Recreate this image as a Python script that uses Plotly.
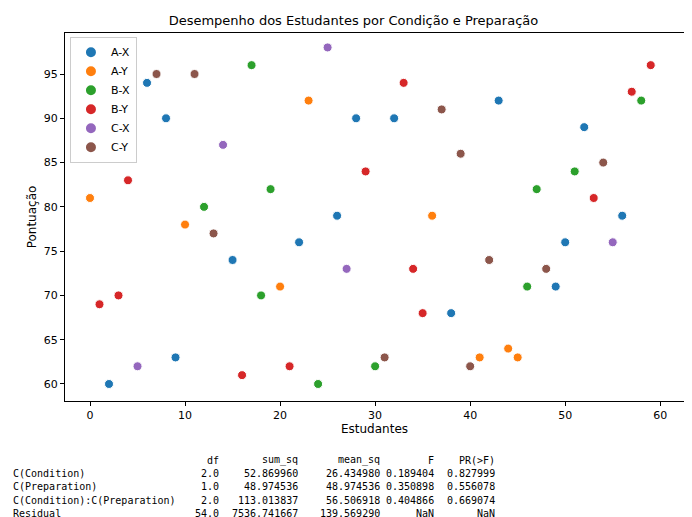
import plotly.graph_objects as go

groups = ["A-X", "A-Y", "B-X", "B-Y", "C-X", "C-Y"]
colors = ["#1f77b4", "#ff7f0e", "#2ca02c", "#d62728", "#9467bd", "#8c564b"]
student_x = {
    "A-X": [2, 6, 8, 9, 15, 22, 26, 28, 32, 38, 43, 49, 50, 52, 56],
    "A-Y": [0, 10, 20, 23, 36, 41, 44, 45],
    "B-X": [12, 17, 18, 19, 24, 30, 46, 47, 51, 58],
    "B-Y": [1, 3, 4, 16, 21, 29, 33, 34, 35, 53, 57, 59],
    "C-X": [5, 14, 25, 27, 55],
    "C-Y": [7, 11, 13, 31, 37, 39, 40, 42, 48, 54],
}
score_y = {
    "A-X": [60, 94, 90, 63, 74, 76, 79, 90, 90, 68, 92, 71, 76, 89, 79],
    "A-Y": [81, 78, 71, 92, 79, 63, 64, 63],
    "B-X": [80, 96, 70, 82, 60, 62, 71, 82, 84, 92],
    "B-Y": [69, 70, 83, 61, 62, 84, 94, 73, 68, 81, 93, 96],
    "C-X": [62, 87, 98, 73, 76],
    "C-Y": [95, 95, 77, 63, 91, 86, 62, 74, 73, 85],
}

# ANOVA table printed under the chart
row_names = ["C(Condition)", "C(Preparation)", "C(Condition):C(Preparation)", "Residual"]
col_names = ["df", "sum_sq", "mean_sq", "F", "PR(>F)"]
table_cols = [
    ["2.0", "1.0", "2.0", "54.0"],
    ["52.869960", "48.974536", "113.013837", "7536.741667"],
    ["26.434980", "48.974536", "56.506918", "139.569290"],
    ["0.189404", "0.350898", "0.404866", "NaN"],
    ["0.827999", "0.556078", "0.669074", "NaN"],
]

fig = go.Figure()
for g, c in zip(groups, colors):
    fig.add_trace(go.Scatter(x=student_x[g], y=score_y[g], mode="markers", name=g,
                             marker=dict(color=c, size=9, line=dict(color="white", width=1))))

L, R, T, B = 57, 16, 25, 124
pw, ph = 692 - L - R, 517 - T - B
def px(x): return (x - L) / pw
def py(y): return (517 - B - y) / ph

mono = dict(family="DejaVu Sans Mono", size=10, color="black")
line_y = [452, 465, 478, 492, 505]
col_right = [213, 292, 374, 428, 489]
ann = []
for i, name in enumerate(row_names):
    ann.append(dict(x=px(3), y=py(line_y[i + 1]), text=name, xanchor="left"))
for j, cn in enumerate(col_names):
    ann.append(dict(x=px(col_right[j]), y=py(line_y[0]), text=cn, xanchor="right"))
    for i, v in enumerate(table_cols[j]):
        ann.append(dict(x=px(col_right[j]), y=py(line_y[i + 1]), text=v, xanchor="right"))
for a in ann:
    a.update(xref="paper", yref="paper", yanchor="middle", showarrow=False, font=mono)

axis = dict(showgrid=False, zeroline=False, showline=True, linecolor="black", mirror=True, automargin=False,
            ticks="outside", ticklen=4, tickcolor="black", tickfont=dict(size=11, color="black"))
fig.update_layout(
    width=692, height=517, margin=dict(l=L, r=R, t=T, b=B, autoexpand=False),
    paper_bgcolor="white", plot_bgcolor="white",
    font=dict(family="DejaVu Sans", color="black"),
    title=dict(text="Desempenho dos Estudantes por Condição e Preparação", x=px(366), xanchor="center",
               y=1 - 12 / 517, yanchor="middle", font=dict(size=13)),
    xaxis=dict(axis, range=[-2.63, 62.5], tickvals=[0, 10, 20, 30, 40, 50, 60],
               title=dict(text="Estudantes", font=dict(size=12), standoff=2)),
    yaxis=dict(axis, range=[58.08, 99.63], tickvals=[60, 65, 70, 75, 80, 85, 90, 95],
               title=dict(text="Pontuação", font=dict(size=12), standoff=4)),
    legend=dict(x=0.008, y=0.99, xanchor="left", yanchor="top", bordercolor="#cccccc", borderwidth=1,
                bgcolor="rgba(255,255,255,0.8)", font=dict(size=11), itemsizing="constant"),
    annotations=ann,
)
fig.write_html("out.html")
